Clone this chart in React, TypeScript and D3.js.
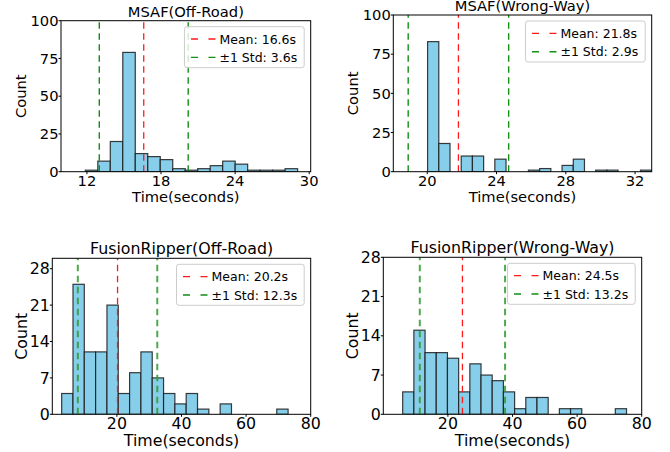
import React from "react";
import * as d3 from "d3";

// ---------- data ----------
const titles = ["MSAF(Off-Road)", "MSAF(Wrong-Way)", "FusionRipper(Off-Road)", "FusionRipper(Wrong-Way)"];

const msafOffRoadCounts = [1, 7, 20, 79, 12, 10, 8, 2, 1, 2, 4, 7, 5, 1, 1, 1, 2];
const msafWrongWayCounts = [83, 18, 0, 10, 10, 0, 8, 0, 0, 1, 2, 0, 4, 8, 0, 1, 1, 0, 0, 1];
const frOffRoadCounts = [4, 25, 12, 12, 21, 4, 8, 12, 7, 4, 2, 4, 1, 0, 2, 0, 0, 0, 0, 1];
const frWrongWayCounts = [4, 15, 11, 11, 10, 4, 9, 7, 6, 4, 1, 3, 3, 0, 1, 1, 0, 0, 0, 1];

// histogram ranges [min, max] of data (bins evenly split)
const binRanges: [number, number][] = [
  [11.87, 29.06],
  [20.02, 32.96],
  [2.9, 73.0],
  [6.0, 75.3],
];

const means = [16.6, 21.8, 20.2, 24.5];
const stds = [3.6, 2.9, 12.3, 13.2];

const xDomains: [number, number][] = [
  [9.9, 30.12],
  [18.04, 32.96],
  [0, 80],
  [0, 80],
];
const yMaxes = [100, 100, 30, 28];

const xTicksTop1 = [12, 18, 24, 30];
const xTicksTop2 = [20, 24, 28, 32];
const xTicksBottom = [20, 40, 60, 80];
const yTicksTop = [0, 25, 50, 75, 100];
const yTicksBottom = [0, 7, 14, 21, 28];

// ---------- layout ----------
const layouts = [
  { left: 61, top: 20.7, right: 310.7, bottom: 171.7, fs: 14.7, tickDy: 14.5, labDy: 30.5 },
  { left: 393.3, top: 15, right: 651.7, bottom: 171.7, fs: 14.7, tickDy: 14.5, labDy: 30.5 },
  { left: 52.3, top: 258.3, right: 310.7, bottom: 414.3, fs: 15.8, tickDy: 14.2, labDy: 31.8 },
  { left: 383.3, top: 257.3, right: 641.7, bottom: 414.3, fs: 15.8, tickDy: 14.2, labDy: 31.8 },
];

const FONT = "'DejaVu Sans', sans-serif";
const LEGEND_FS = 12.5;

let _ctx: CanvasRenderingContext2D | null = null;
function measure(text: string, size: number) {
  if (!_ctx) {
    const c = document.createElement("canvas");
    _ctx = c.getContext("2d");
  }
  if (!_ctx) return text.length * size * 0.6;
  _ctx.font = `${size}px 'DejaVu Sans'`;
  return _ctx.measureText(text).width;
}

type PanelProps = {
  idx: number;
  counts: number[];
  xTicks: number[];
  yTicks: number[];
  bottomRow: boolean;
};

function Panel({ idx, counts, xTicks, yTicks, bottomRow }: PanelProps) {
  const L = layouts[idx];
  const x = d3.scaleLinear().domain(xDomains[idx]).range([L.left, L.right]);
  const y = d3.scaleLinear().domain([0, yMaxes[idx]]).range([L.bottom, L.top]);
  const [b0, b1] = binRanges[idx];
  const w = (b1 - b0) / counts.length;
  const bins = counts.map((c, i) => ({ x0: b0 + i * w, x1: b0 + (i + 1) * w, c }));
  const mean = means[idx];
  const std = stds[idx];
  const fs = L.fs;
  const clipId = `clip${idx}`;

  const greenColor = bottomRow ? "#2e9a2e" : "#119011";
  const greenWidth = bottomRow ? 2 : 1.4;
  const greenOpacity = bottomRow ? 0.85 : 1;

  const labels = [`Mean: ${mean}s`, `±1 Std: ${std}s`];
  const textW = Math.max(...labels.map((t) => measure(t, LEGEND_FS)));
  const boxW = 6.5 + 24.5 + 4 + textW + 7;
  const boxH = 41;
  const boxRight = L.right - 6.5;
  const boxLeft = boxRight - boxW;
  const boxTop = L.top + 6;

  return (
    <g>
      <defs>
        <clipPath id={clipId}>
          <rect x={L.left} y={L.top} width={L.right - L.left} height={L.bottom - L.top} />
        </clipPath>
      </defs>
      <g clipPath={`url(#${clipId})`}>
        {bins.map((b, i) => (
          <rect
            key={i}
            x={x(b.x0)}
            y={y(b.c)}
            width={x(b.x1) - x(b.x0)}
            height={y(0) - y(b.c)}
            fill="#87ceeb"
            stroke="#1a1a1a"
            strokeWidth={1.2}
            strokeOpacity={0.85}
          />
        ))}
        <line x1={x(mean)} x2={x(mean)} y1={L.bottom} y2={L.top} stroke="#ff1a1a" strokeWidth={1.3} strokeDasharray="6.5,4.5" />
        {[mean - std, mean + std].map((v, i) => (
          <line
            key={i}
            x1={x(v)}
            x2={x(v)}
            y1={L.bottom}
            y2={L.top}
            stroke={greenColor}
            strokeOpacity={greenOpacity}
            strokeWidth={greenWidth}
            strokeDasharray="6.5,4.5"
          />
        ))}
      </g>
      {/* frame */}
      <rect x={L.left} y={L.top} width={L.right - L.left} height={L.bottom - L.top} fill="none" stroke="#000" strokeWidth={1} />
      {/* x ticks */}
      {xTicks.map((t) => (
        <g key={t}>
          <line x1={x(t)} x2={x(t)} y1={L.bottom} y2={L.bottom + 2.5} stroke="#000" strokeWidth={1} />
          <text x={x(t)} y={L.bottom + L.tickDy} textAnchor="middle" fontSize={fs} fontFamily={FONT} fill="#000">
            {t}
          </text>
        </g>
      ))}
      {/* y ticks */}
      {yTicks.map((t) => (
        <g key={t}>
          <line x1={L.left - 2.5} x2={L.left} y1={y(t)} y2={y(t)} stroke="#000" strokeWidth={1} />
          <text x={L.left - 2.5} y={y(t) + fs * 0.36} textAnchor="end" fontSize={fs} fontFamily={FONT} fill="#000">
            {t}
          </text>
        </g>
      ))}
      {/* title */}
      <text x={(L.left + L.right) / 2} y={L.top - 4} textAnchor="middle" fontSize={fs} fontFamily={FONT} fill="#000">
        {titles[idx]}
      </text>
      {/* x label */}
      <text x={(L.left + L.right) / 2} y={L.bottom + L.labDy} textAnchor="middle" fontSize={fs} fontFamily={FONT} fill="#000">
        Time(seconds)
      </text>
      {/* y label */}
      <text
        transform={`translate(${L.left - (bottomRow ? 25.8 : 35)},${(L.top + L.bottom) / 2}) rotate(-90)`}
        textAnchor="middle"
        fontSize={fs}
        fontFamily={FONT}
        fill="#000"
      >
        Count
      </text>
      {/* legend */}
      <rect x={boxLeft} y={boxTop} width={boxW} height={boxH} rx={2.5} fill="#fff" fillOpacity={0.8} stroke="#cccccc" strokeWidth={1} />
      {labels.map((lab, i) => {
        const cy = boxTop + 12.3 + i * 18.4;
        return (
          <g key={i}>
            <line
              x1={boxLeft + 6.5}
              x2={boxLeft + 31}
              y1={cy}
              y2={cy}
              stroke={i === 0 ? "#ff1a1a" : greenColor}
              strokeOpacity={i === 0 ? 1 : greenOpacity}
              strokeWidth={i === 0 ? 1.3 : greenWidth}
              strokeDasharray="7,10.5"
            />
            <text x={boxLeft + 35} y={cy + LEGEND_FS * 0.36} fontSize={LEGEND_FS} fontFamily={FONT} fill="#000">
              {lab}
            </text>
          </g>
        );
      })}
    </g>
  );
}

export default function App() {
  return (
    <div style={{ position: "absolute", left: 0, top: 0 }}>
      <svg width={670} height={452} viewBox="0 0 670 452" style={{ display: "block", background: "#fff" }}>
        <rect x={0} y={0} width={670} height={452} fill="#fff" />
        <Panel idx={0} counts={msafOffRoadCounts} xTicks={xTicksTop1} yTicks={yTicksTop} bottomRow={false} />
        <Panel idx={1} counts={msafWrongWayCounts} xTicks={xTicksTop2} yTicks={yTicksTop} bottomRow={false} />
        <Panel idx={2} counts={frOffRoadCounts} xTicks={xTicksBottom} yTicks={yTicksBottom} bottomRow={true} />
        <Panel idx={3} counts={frWrongWayCounts} xTicks={xTicksBottom} yTicks={yTicksBottom} bottomRow={true} />
      </svg>
    </div>
  );
}
